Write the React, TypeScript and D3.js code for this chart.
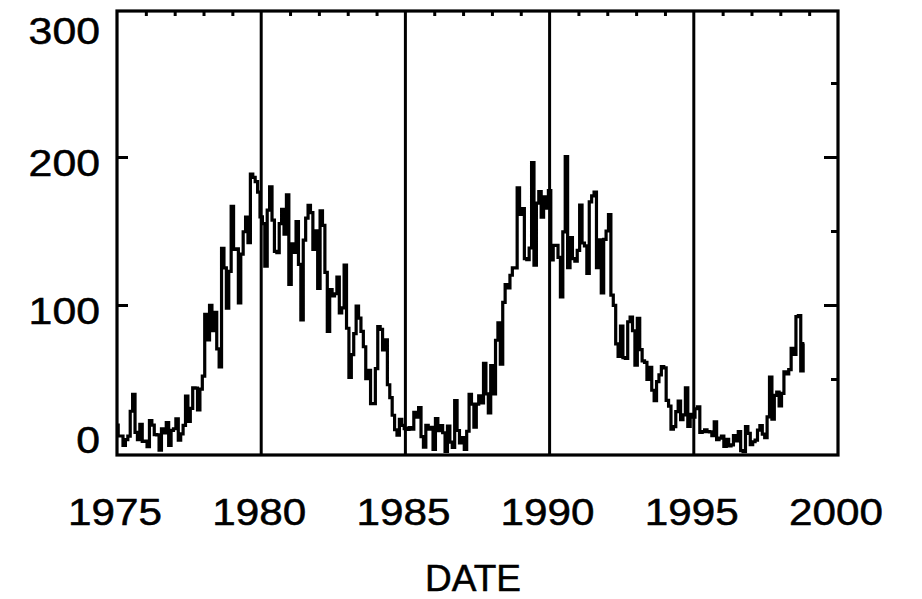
import React, { useEffect, useRef } from "react";
import * as d3 from "d3";

// monthly sunspot numbers, Jan..Dec
const ssn1975 = [18.9, 11.5, 11.5, 5.1, 9.0, 11.4, 28.2, 39.7, 13.9, 9.1, 19.4, 7.8];
const ssn1976 = [8.1, 4.3, 21.9, 18.8, 12.4, 12.2, 1.9, 16.4, 13.5, 20.6, 5.2, 15.3];
const ssn1977 = [16.4, 23.1, 8.7, 12.9, 18.6, 38.5, 21.4, 30.1, 44.0, 43.8, 29.1, 43.2];
const ssn1978 = [51.9, 93.6, 76.5, 99.7, 82.7, 95.1, 70.4, 58.1, 138.2, 125.1, 97.9, 122.7];
const ssn1979 = [166.6, 137.5, 138.0, 101.5, 134.4, 149.5, 159.4, 142.2, 188.4, 186.2, 183.3, 176.3];
const ssn1980 = [159.6, 155.0, 126.2, 164.1, 179.9, 157.3, 136.3, 135.4, 155.0, 164.7, 147.9, 174.4];
const ssn1981 = [114.0, 141.3, 135.5, 156.4, 127.5, 90.0, 143.8, 158.7, 167.3, 162.4, 137.5, 150.1];
const ssn1982 = [111.2, 163.6, 153.8, 122.0, 82.2, 110.4, 106.1, 107.6, 118.8, 94.7, 98.1, 127.0];
const ssn1983 = [84.3, 51.0, 66.5, 80.7, 99.2, 91.1, 82.2, 71.8, 50.3, 55.8, 33.3, 33.4];
const ssn1984 = [57.0, 85.4, 83.5, 69.7, 76.4, 46.1, 37.4, 25.5, 15.7, 12.0, 22.8, 18.7];
const ssn1985 = [16.5, 15.9, 17.2, 16.2, 27.5, 24.2, 30.7, 11.1, 3.9, 18.6, 16.2, 17.3];
const ssn1986 = [2.5, 23.2, 15.1, 18.5, 13.7, 1.1, 18.1, 7.4, 3.8, 35.4, 15.2, 6.8];
const ssn1987 = [10.4, 2.4, 14.7, 39.6, 33.0, 17.4, 33.0, 38.7, 33.9, 60.6, 39.9, 27.1];
const ssn1988 = [59.0, 40.0, 76.2, 88.0, 60.1, 101.8, 113.8, 111.6, 120.1, 125.1, 125.1, 179.2];
const ssn1989 = [161.3, 165.1, 131.4, 130.6, 138.5, 196.2, 126.9, 168.9, 176.7, 159.4, 173.0, 165.5];
const ssn1990 = [177.3, 130.5, 140.3, 140.3, 132.2, 105.4, 149.4, 200.3, 125.2, 145.5, 131.4, 129.7];
const ssn1991 = [136.9, 167.5, 141.9, 140.0, 121.3, 169.7, 173.7, 176.3, 125.3, 144.1, 108.2, 144.4];
const ssn1992 = [150.0, 161.1, 106.7, 99.8, 73.8, 65.2, 85.7, 64.5, 63.9, 88.7, 91.8, 82.6];
const ssn1993 = [59.3, 91.0, 69.8, 62.2, 61.3, 49.8, 57.9, 42.4, 35.3, 48.2, 52.8, 58.3];
const ssn1994 = [57.5, 35.5, 31.7, 16.1, 17.8, 28.0, 35.1, 22.5, 25.7, 44.0, 18.0, 26.2];
const ssn1995 = [24.2, 29.9, 31.1, 14.0, 14.5, 15.6, 14.5, 14.3, 11.8, 21.1, 9.0, 10.0];
const ssn1996 = [11.5, 4.4, 9.2, 4.8, 5.5, 11.8, 8.2, 14.4, 1.6, 0.9, 17.9, 13.3];
const ssn1997 = [5.7, 7.6, 8.7, 15.5, 18.5, 12.7, 10.4, 24.4, 51.3, 22.8, 39.0, 41.2];
const ssn1998 = [31.9, 40.3, 54.8, 53.4, 56.3, 70.7, 66.6, 92.2, 92.9, 55.5, 74.0];

const yearly = [
  ssn1975, ssn1976, ssn1977, ssn1978, ssn1979, ssn1980, ssn1981, ssn1982,
  ssn1983, ssn1984, ssn1985, ssn1986, ssn1987, ssn1988, ssn1989, ssn1990,
  ssn1991, ssn1992, ssn1993, ssn1994, ssn1995, ssn1996, ssn1997, ssn1998,
];
const firstYear = 1975;

const xTickLabels = [1975, 1980, 1985, 1990, 1995, 2000];
const gridYears = [1980, 1985, 1990, 1995];
const yTickLabels = [0, 100, 200, 300];
const yMajor = [100, 200];
const yMinor = [50, 150, 250];

const App = () => {
  const ref = useRef<SVGSVGElement>(null);

  useEffect(() => {
    const svg = d3.select(ref.current);
    svg.selectAll("*").remove();

    const left = 117, right = 838, top = 11, bottom = 455;
    const font = "'Liberation Sans', Arial, sans-serif";

    const x = d3.scaleLinear().domain([1975, 2000]).range([left, right]);
    const y = d3.scaleLinear().domain([-1.35, 298.65]).range([bottom, top]);

    const data: { t: number; v: number }[] = [];
    yearly.forEach((arr, i) => {
      arr.forEach((v, m) => data.push({ t: firstYear + i + m / 12, v }));
    });

    svg.append("defs").append("clipPath").attr("id", "plot-clip")
      .append("rect")
      .attr("x", left).attr("y", top)
      .attr("width", right - left).attr("height", bottom - top);

    // grid lines at 5-year marks
    svg.append("g").selectAll("line")
      .data(gridYears)
      .enter().append("line")
      .attr("x1", d => x(d)).attr("x2", d => x(d))
      .attr("y1", top).attr("y2", bottom)
      .attr("stroke", "#000").attr("stroke-width", 3);

    // top minor ticks (each year)
    const yearTicks = d3.range(1976, 2000).filter(d => d % 5 !== 0);
    const topAxis = svg.append("g")
      .attr("transform", `translate(0, ${top})`)
      .call(d3.axisTop(x).tickValues(yearTicks).tickSize(-5).tickFormat(() => ""));
    topAxis.select(".domain").remove();
    topAxis.selectAll("line").attr("stroke", "#000").attr("stroke-width", 3);

    // left major ticks
    const leftAxis = svg.append("g")
      .attr("transform", `translate(${left}, 0)`)
      .call(d3.axisLeft(y).tickValues(yMajor).tickSize(-11).tickFormat(() => ""));
    leftAxis.select(".domain").remove();
    leftAxis.selectAll("line").attr("stroke", "#000").attr("stroke-width", 3);

    // right major + minor ticks
    const rightMajor = svg.append("g")
      .attr("transform", `translate(${right}, 0)`)
      .call(d3.axisRight(y).tickValues(yMajor).tickSize(-14).tickFormat(() => ""));
    rightMajor.select(".domain").remove();
    rightMajor.selectAll("line").attr("stroke", "#000").attr("stroke-width", 3);

    const rightMinor = svg.append("g")
      .attr("transform", `translate(${right}, 0)`)
      .call(d3.axisRight(y).tickValues(yMinor).tickSize(-7).tickFormat(() => ""));
    rightMinor.select(".domain").remove();
    rightMinor.selectAll("line").attr("stroke", "#000").attr("stroke-width", 3);

    // data line
    const line = d3.line<{ t: number; v: number }>()
      .x(d => x(d.t))
      .y(d => y(d.v))
      .curve(d3.curveStep);

    svg.append("path")
      .datum(data)
      .attr("clip-path", "url(#plot-clip)")
      .attr("fill", "none")
      .attr("stroke", "#000")
      .attr("stroke-width", 3.2)
      .attr("stroke-linejoin", "miter")
      .attr("d", line);

    // frame
    svg.append("rect")
      .attr("x", left).attr("y", top)
      .attr("width", right - left).attr("height", bottom - top)
      .attr("fill", "none")
      .attr("stroke", "#000")
      .attr("stroke-width", 3.2);

    // y labels
    svg.append("g").selectAll("text")
      .data(yTickLabels)
      .enter().append("text")
      .attr("x", 100)
      .attr("y", d => Math.max(31, Math.min(440, y(d) + 6)))
      .attr("text-anchor", "end")
      .attr("dominant-baseline", "central")
      .attr("font-family", font)
      .attr("font-size", 36)
      .attr("textLength", d => String(d).length * 23.8)
      .attr("lengthAdjust", "spacingAndGlyphs")
      .attr("fill", "#000")
      .attr("stroke", "#000")
      .attr("stroke-width", 0.5)
      .text(d => d);

    // x labels
    svg.append("g").selectAll("text")
      .data(xTickLabels)
      .enter().append("text")
      .attr("x", d => x(d) - 2)
      .attr("y", 512)
      .attr("text-anchor", "middle")
      .attr("dominant-baseline", "central")
      .attr("font-family", font)
      .attr("font-size", 37)
      .attr("textLength", d => String(d).length * 23.5)
      .attr("lengthAdjust", "spacingAndGlyphs")
      .attr("fill", "#000")
      .attr("stroke", "#000")
      .attr("stroke-width", 0.5)
      .text(d => d);

    svg.append("text")
      .attr("x", 473)
      .attr("y", 578)
      .attr("text-anchor", "middle")
      .attr("dominant-baseline", "central")
      .attr("font-family", font)
      .attr("font-size", 37)
      .attr("fill", "#000")
      .attr("stroke", "#000")
      .attr("stroke-width", 0.5)
      .text("DATE");
  }, []);

  return (
    <svg
      ref={ref}
      width={922}
      height={599}
      style={{ position: "absolute", left: 0, top: 0, background: "#fff" }}
    />
  );
};

export default App;
